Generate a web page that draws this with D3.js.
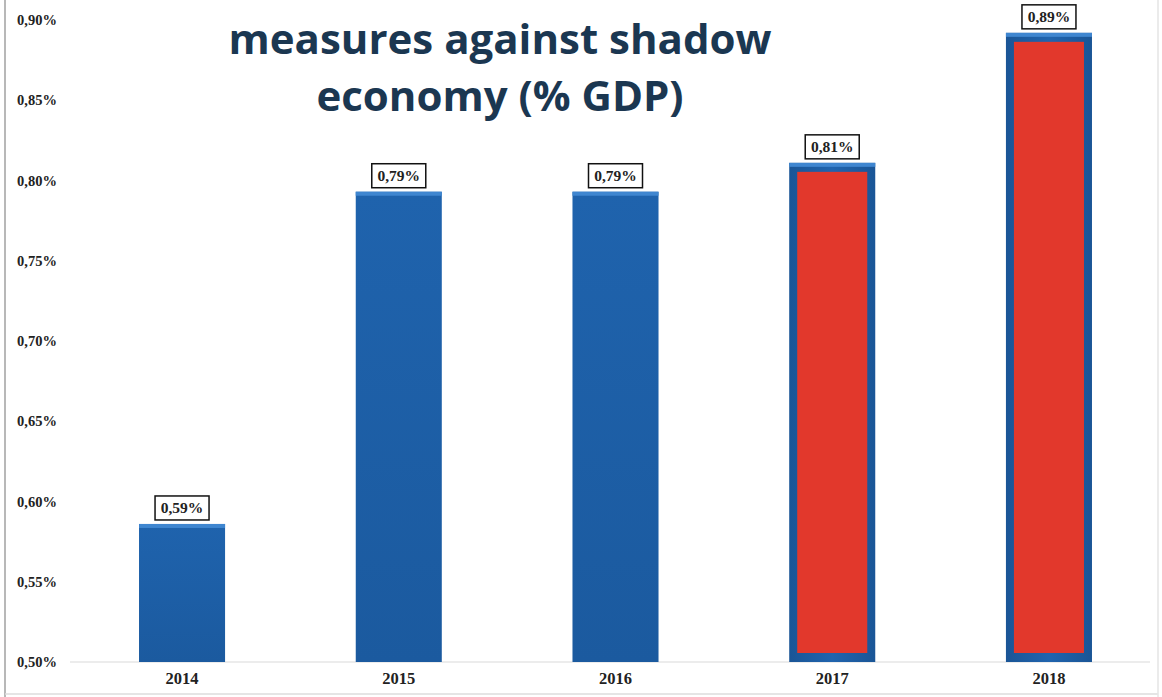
<!DOCTYPE html>
<html>
<head>
<meta charset="utf-8">
<script src="https://cdn.jsdelivr.net/npm/d3@7"></script>
<style>
html,body{margin:0;padding:0;background:#fff;}
svg{display:block;}
</style>
</head>
<body>
<script>
const years = ["2014","2015","2016","2017","2018"];
const values = [0.586, 0.793, 0.793, 0.811, 0.892];
const highlighted = [false, false, false, true, true];
const yTicks = [0.50,0.55,0.60,0.65,0.70,0.75,0.80,0.85,0.90];
const titleLines = ["measures against shadow","economy (% GDP)"];

const W = 1162, H = 697;
const svg = d3.select("body").append("svg").attr("width", W).attr("height", H);

const defs = svg.append("defs");
const g1 = defs.append("linearGradient").attr("id","blueGrad").attr("x1",0).attr("y1",0).attr("x2",0).attr("y2",1);
g1.append("stop").attr("offset","0%").attr("stop-color","#1f63ad");
g1.append("stop").attr("offset","100%").attr("stop-color","#1b5a9f");
const g2 = defs.append("linearGradient").attr("id","sideGrad").attr("x1",0).attr("y1",0).attr("x2",1).attr("y2",0);
g2.append("stop").attr("offset","0%").attr("stop-color","#1a5596");
g2.append("stop").attr("offset","50%").attr("stop-color","#2064ae");
g2.append("stop").attr("offset","100%").attr("stop-color","#1a5596");

const x = d3.scaleBand().domain(years).range([74, 1157]).paddingInner(0.603).paddingOuter(0.3);
const y = d3.scaleLinear().domain([0.50, 0.90]).range([662, 20]);

const fmt = v => d3.format(".2f")(v).replace(".", ",") + "%";
const serif = "Liberation Serif, Times New Roman, serif";

// frame lines
svg.append("line").attr("x1",5).attr("x2",5).attr("y1",0).attr("y2",H).attr("stroke","#b8b8b8").attr("stroke-width",2);
svg.append("line").attr("x1",5).attr("x2",1158).attr("y1",694).attr("y2",694).attr("stroke","#dcdcdc").attr("stroke-width",1.5);
svg.append("line").attr("x1",1158).attr("x2",1158).attr("y1",0).attr("y2",H).attr("stroke","#e4e4e4").attr("stroke-width",1.5);

// baseline
svg.append("line").attr("x1",70).attr("x2",1150).attr("y1",y(0.5)).attr("y2",y(0.5)).attr("stroke","#e6e6e6").attr("stroke-width",1.5);

// y axis
const yAxis = d3.axisLeft(y).tickValues(yTicks).tickFormat(fmt).tickSize(0).tickPadding(0);
const ya = svg.append("g").attr("transform","translate(17,0)").call(yAxis);
ya.select(".domain").remove();
ya.selectAll("text").attr("text-anchor","start").attr("font-family",serif).attr("font-weight","bold").attr("font-size",14.5).attr("fill","#222");

// x axis
const xAxis = d3.axisBottom(x).tickSize(0).tickPadding(0);
const xa = svg.append("g").attr("transform","translate(0,"+ (y(0.5)+10) +")").call(xAxis);
xa.select(".domain").remove();
xa.selectAll("text").attr("font-family",serif).attr("font-weight","bold").attr("font-size",16.5).attr("fill","#222");

// bars
const data = years.map((yr,i)=>({yr, v:values[i], hl:highlighted[i]}));
const bars = svg.append("g").selectAll("g").data(data).join("g");
bars.append("rect")
  .attr("x", d=>x(d.yr)).attr("width", x.bandwidth())
  .attr("y", d=>y(d.v)).attr("height", d=>y(0.5)-y(d.v))
  .attr("fill", d=> d.hl ? "url(#sideGrad)" : "url(#blueGrad)");
bars.append("rect")
  .attr("x", d=>x(d.yr)).attr("width", x.bandwidth())
  .attr("y", d=>y(d.v)).attr("height", 4)
  .attr("fill", "#3f86d0");
bars.filter(d=>d.hl).append("rect")
  .attr("x", d=>x(d.yr)+8).attr("width", x.bandwidth()-16)
  .attr("y", d=>y(d.v)+9).attr("height", d=>y(0.5)-y(d.v)-18)
  .attr("fill", "#e2382c");

// value labels
const lab = bars.append("g").attr("transform", d=>`translate(${x(d.yr)+x.bandwidth()/2},${y(d.v)-16})`);
lab.append("rect").attr("x",-27).attr("y",-12).attr("width",54).attr("height",24)
  .attr("fill","#fff").attr("stroke","#111").attr("stroke-width",1.5);
lab.append("text").text(d=>fmt(d.v)).attr("text-anchor","middle").attr("dy","0.35em")
  .attr("font-family",serif).attr("font-weight","bold").attr("font-size",15.5).attr("fill","#222");

// title
svg.append("g").selectAll("text").data(titleLines).join("text")
  .attr("x", 500).attr("y", (d,i)=> 54 + i*57)
  .attr("text-anchor","middle")
  .attr("font-family","Open Sans, sans-serif").attr("font-weight","bold").attr("font-size",42)
  .attr("fill","#1b3751")
  .text(d=>d);
</script>
</body>
</html>
